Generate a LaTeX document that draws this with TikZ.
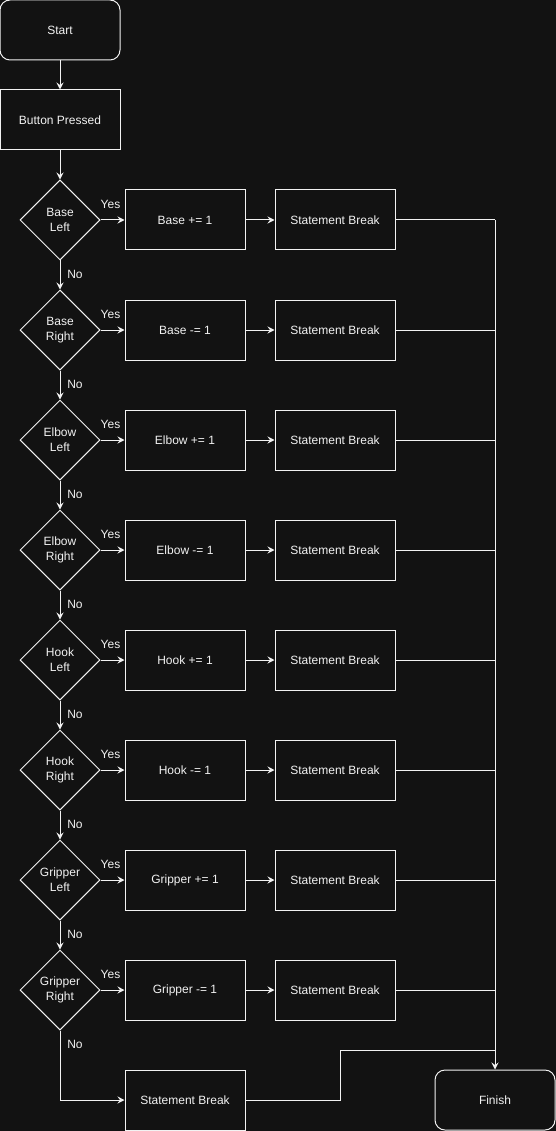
\documentclass[tikz,border=0pt]{standalone}
\usepackage{fontspec}
\setmainfont{Liberation Sans}
\usepackage{xcolor}
\usetikzlibrary{arrows.meta, positioning, shapes.geometric}

\definecolor{bgdark}{HTML}{121212}
\definecolor{ink}{HTML}{F2F2F2}
\newcommand{\flowfont}{\fontsize{12}{15}\selectfont}

\begin{document}
\begin{tikzpicture}[x=1pt, y=-1pt,
    box/.style={draw=ink, line width=1pt, minimum width=120pt, minimum height=60pt, inner sep=0pt, text=ink, font=\flowfont},
    term/.style={box, rounded corners=10pt},
    cond/.style={diamond, draw=ink, line width=1pt, minimum width=80pt, minimum height=80pt, inner sep=0pt, align=center, text=ink, font=\flowfont},
    lbl/.style={text=ink, font=\flowfont, inner sep=0pt},
    link/.style={draw=ink, line width=1pt},
    arr/.style={link, -{Stealth[length=7pt, width=7pt, inset=2.5pt]}}]
    % Background and page size
    \fill[bgdark] (0,0) rectangle (556,1131);
    \useasboundingbox (0,0) rectangle (556,1131);

    % Start and input
    \node[term] (start) at (60,30) {Start};
    \node[box] (btn) at (60,120) {Button Pressed};
    \draw[arr] (start) -- (btn);

    % End node
    \node[term] (finish) at (495,1100) {Finish};

    % One row per joint direction
    \foreach \test/\act [count=\i] in {Base\\Left/Base += 1, Base\\Right/Base -= 1,
        Elbow\\Left/Elbow += 1, Elbow\\Right/Elbow -= 1, Hook\\Left/Hook += 1,
        Hook\\Right/Hook -= 1, Gripper\\Left/Gripper += 1, Gripper\\Right/Gripper -= 1} {
        \pgfmathsetmacro{\yy}{220+110*(\i-1)}
        \node[cond] (d\i) at (60,\yy) {\test};
        \node[box] (a\i) at (185,\yy) {\act};
        \node[box] (s\i) at (335,\yy) {Statement Break};
        \draw[arr] (d\i) -- (a\i);
        \node[lbl] at ([xshift=10pt, yshift=16pt]d\i.east) {Yes};
        \node[lbl] at ([xshift=15pt, yshift=-14pt]d\i.south) {No};
        \draw[arr] (a\i) -- (s\i);
        \draw[link] (s\i.east) -- (s\i.east -| finish.north);
    }

    % No branches down the chain
    \draw[arr] (btn) -- (d1);
    \foreach \i in {1,...,7} {
        \pgfmathtruncatemacro{\j}{\i+1}
        \draw[arr] (d\i.south) -- (d\j.north);
    }

    % Fall-through case
    \node[box] (sx) at (185,1100) {Statement Break};
    \draw[arr] (d8.south) |- (sx.west);
    \coordinate (bend) at (340,1050);
    \draw[link] (sx.east) -- (sx.east -| bend) -- (bend) -- (bend -| finish.north);

    % Trunk into finish
    \draw[arr] (s1.east -| finish.north) -- (finish.north);
\end{tikzpicture}
\end{document}
